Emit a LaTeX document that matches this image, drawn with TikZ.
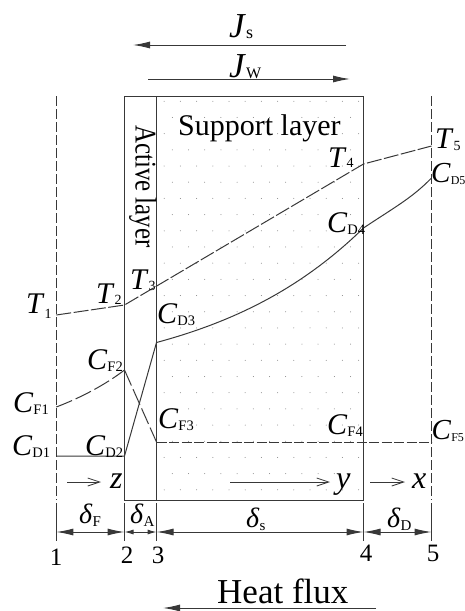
\documentclass[tikz,border=0pt]{standalone}
\usepackage{fontspec}
\setmainfont{Liberation Serif}
\usetikzlibrary{arrows.meta}
\definecolor{ink}{HTML}{383838}
\newcommand{\labC}[2]{{\fontsize{30}{30}\selectfont\textit{#1}}\raisebox{-2pt}{\fontsize{14.5}{14.5}\selectfont #2}}
\newcommand{\labCtight}[2]{{\fontsize{29}{29}\selectfont\textit{#1}}\raisebox{-2pt}{\fontsize{12}{12}\selectfont #2}}
\newcommand{\labT}[2]{{\fontsize{30}{30}\selectfont\textit{T}}\raisebox{-#1}{\fontsize{14}{14}\selectfont #2}}
\newcommand{\labJ}[3]{{\fontsize{35}{35}\selectfont\textit{#1}}\raisebox{-1pt}{\fontsize{#3}{#3}\selectfont #2}}
\newcommand{\labD}[1]{{\fontsize{28}{28}\selectfont\textit{δ}}\raisebox{-3pt}{\fontsize{15}{15}\selectfont #1}}
\tikzset{
  lbl/.style={inner sep=0pt,anchor=base west,text=black},
  num/.style={inner sep=0pt,anchor=base,font=\fontsize{25}{25}\selectfont,text=black},
  axl/.style={inner sep=0pt,anchor=base west,font=\fontsize{32}{32}\selectfont\itshape,text=black},
  ln/.style={draw=ink,line width=1pt},
  bound/.style={draw=ink,line width=1pt,dash pattern=on 10pt off 3pt},
  tline/.style={draw=ink,line width=1pt,dash pattern=on 15pt off 2.5pt},
  cfline/.style={draw=ink,line width=1pt,dash pattern=on 17pt off 4pt},
  cfflat/.style={draw=ink,line width=1pt,dash pattern=on 10pt off 2.5pt},
  bigarrow/.style={draw=ink,line width=1pt,-{Latex[length=17pt,width=7pt]}},
  dim/.style={draw=ink,line width=1pt,{Latex[length=17pt,width=7pt]}-{Latex[length=17pt,width=7pt]}},
  dimsmall/.style={draw=ink,line width=1pt,{Latex[length=9pt,width=5pt]}-{Latex[length=9pt,width=5pt]}},
  axis/.style={draw=ink,line width=.8pt,-{Straight Barb[length=12pt,width=8pt]}},
}
\begin{document}
\begin{tikzpicture}[x=1pt,y=-1pt]
\useasboundingbox (0,0) rectangle (465,611);
% dots of the support layer
\foreach \k in {-18,-16,...,6}{\foreach \j in {0,...,12}{
  \fill[gray] ({164.2+16.2*\j},{392.7+16.19*\k}) circle (.5pt);}}
\foreach \k in {-17,-15,...,5}{\foreach \j in {0,...,11}{
  \fill[gray] ({172.3+16.2*\j},{392.7+16.19*\k}) circle (.5pt);}}
% named points
\coordinate (bt1) at (56.3,96); \coordinate (bb1) at (56.3,500);
\coordinate (bt5) at (431.5,96); \coordinate (bb5) at (431.5,500);
\coordinate (tl) at (124.5,96.5); \coordinate (tm) at (156.5,96.5); \coordinate (tr) at (363.5,96.5);
\coordinate (bl) at (124.5,500.5); \coordinate (bm) at (156.5,500.5); \coordinate (br) at (363.5,500.5);
\coordinate (d1t) at (56.3,503); \coordinate (d1b) at (56.3,541);
\coordinate (d2t) at (124.5,503); \coordinate (d2b) at (124.5,541);
\coordinate (d3t) at (156.5,503); \coordinate (d3b) at (156.5,541);
\coordinate (d4t) at (363.5,503); \coordinate (d4b) at (363.5,541);
\coordinate (d5t) at (431.5,503); \coordinate (d5b) at (431.5,541);
\coordinate (a1) at (56.3,532); \coordinate (a2) at (124.5,532); \coordinate (a3) at (156.5,532);
\coordinate (a4) at (363.5,532); \coordinate (a5) at (431.5,532);
\coordinate (T1) at (56.3,315); \coordinate (T2) at (124.5,305); \coordinate (T4) at (363.5,164); \coordinate (T5) at (431.5,146);
\coordinate (F1) at (56.3,407); \coordinate (F2) at (124.5,370); \coordinate (F3) at (156.5,442); \coordinate (F5) at (431.5,442);
\coordinate (D1) at (56.3,456); \coordinate (D2) at (124.5,456); \coordinate (D3) at (156.5,342.5);
\coordinate (D4) at (363.5,228); \coordinate (D5) at (431.5,178);
\coordinate (js1) at (346,45); \coordinate (js2) at (133,45);
\coordinate (jw1) at (148,79); \coordinate (jw2) at (350,79);
\coordinate (hf1) at (376,608); \coordinate (hf2) at (163,608);
\coordinate (z1) at (67,482); \coordinate (z2) at (101,482);
\coordinate (y1) at (230,482); \coordinate (y2) at (330,482);
\coordinate (x1) at (370,482); \coordinate (x2) at (405,482);
% layers
\draw[ln] (tl) rectangle (br);
\draw[ln] (tm) -- (bm);
\draw[bound] (bt1) -- (bb1);
\draw[bound] (bt5) -- (bb5);
\foreach \n in {1,...,5} \draw[ln] (d\n t) -- (d\n b);
% profiles
\draw[tline] (T1) -- (T2) -- (T4) -- (T5);
\draw[cfline] (F1) .. controls (80,398) and (105,385) .. (F2);
\draw[cfline] (F2) -- (F3);
\draw[cfflat] (F3) -- (F5);
\draw[ln] (D1) -- (D2) -- (D3) .. controls (240,320) and (305,285) .. (D4) .. controls (395,207) and (412,198) .. (D5);
% arrows
\draw[bigarrow] (js1) -- (js2);
\draw[bigarrow] (jw1) -- (jw2);
\draw[bigarrow] (hf1) -- (hf2);
\draw[axis] (z1) -- (z2);
\draw[axis] (y1) -- (y2);
\draw[axis] (x1) -- (x2);
\draw[dim] (a1) -- (a2);
\draw[dimsmall] (a2) -- (a3);
\draw[dim] (a3) -- (a4);
\draw[dim] (a4) -- (a5);
% texts
\node[lbl] (js) at (229,37) {\labJ{J}{s}{18}};
\node[lbl] (jw) at (229,77) {\labJ{J}{W}{16}};
\node[lbl,font=\fontsize{30}{30}\selectfont] (sup) at (178,135) {Support layer};
\node[inner sep=0pt,anchor=base west,rotate=-90,font=\fontsize{30}{30}\selectfont] (act) at (135.7,125) {\scalebox{.83}[1]{Active layer}};
\node[lbl] (lT1) at (26,313) {\labT{5pt}{1}};
\node[lbl] (lT2) at (96,303) {\labT{1pt}{2}};
\node[lbl] (lT3) at (130,289) {\labT{1pt}{3}};
\node[lbl] (lT4) at (328,167) {\labT{0pt}{4}};
\node[lbl] (lT5) at (435,148) {\labT{2pt}{5}};
\node[lbl] (lD1) at (12,455) {\labC{C}{D1}};
\node[lbl] (lD2) at (85,455) {\labC{C}{D2}};
\node[lbl] (lD3) at (157,323) {\labC{C}{D3}};
\node[lbl] (lD4) at (327,232) {\labC{C}{D4}};
\node[lbl] (lD5) at (431,182) {\labCtight{C}{D5}};
\node[lbl] (lF1) at (13,412) {\labC{C}{F1}};
\node[lbl] (lF2) at (87,369) {\labC{C}{F2}};
\node[lbl] (lF3) at (158,428) {\labC{C}{F3}};
\node[lbl] (lF4) at (327,434) {\labC{C}{F4}};
\node[lbl] (lF5) at (431.5,439) {\labCtight{C}{F5}};
\node[axl] (lz) at (110,488) {z};
\node[axl] (ly) at (336,488) {y};
\node[axl] (lx) at (412,488) {x};
\node[lbl] (dF) at (79,523) {\labD{F}};
\node[lbl] (dA) at (130,523) {\labD{A}};
\node[lbl] (dS) at (246,527) {\labD{s}};
\node[lbl] (dD) at (387,527) {\labD{D}};
\node[num] (n1) at (56,565) {1};
\node[num] (n2) at (127,563) {2};
\node[num] (n3) at (158,563) {3};
\node[num] (n4) at (366,561) {4};
\node[num] (n5) at (433,561) {5};
\node[lbl,font=\fontsize{35}{35}\selectfont] (hf) at (217,603) {Heat flux};
\end{tikzpicture}
\end{document}
